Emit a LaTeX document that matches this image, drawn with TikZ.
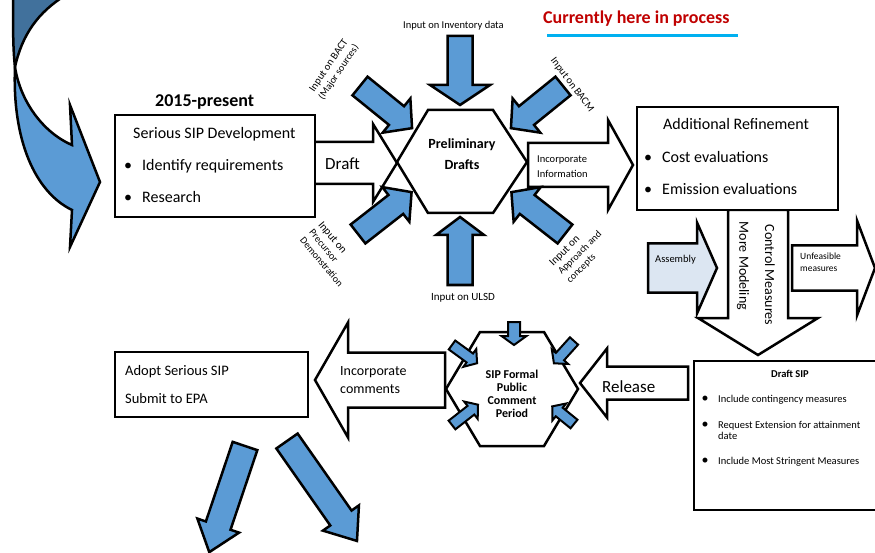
\documentclass[tikz,border=0pt]{standalone}
\usepackage{fontspec}
\setmainfont{Carlito}
\definecolor{ablue}{HTML}{5B9BD5}
\definecolor{dblue}{HTML}{41719C}
\definecolor{lblue}{HTML}{DCE6F2}
\definecolor{cred}{HTML}{C00000}
\definecolor{cyanline}{HTML}{00B0F0}
\tikzset{
 pics/barrow/.style args={#1/#2/#3/#4}{code={\path[pic actions] (0,-#2) -- ({#1-#4},-#2) -- ({#1-#4},-#3) -- (#1,0) -- ({#1-#4},#3) -- ({#1-#4},#2) -- (0,#2) -- cycle;}},
 bluearrow/.style={draw=black, fill=ablue, line width=2.5pt},
 whitearrow/.style={draw=black, fill=white, line width=2.5pt},
 box/.style={draw=black, line width=2.8pt, fill=white, inner sep=0pt},
 hexa/.style={draw=black, line width=2.5pt, fill=white},
 txt/.style={inner sep=0pt, anchor=base west},
 ctxt/.style={inner sep=0pt, anchor=base},
 rtxt/.style={inner sep=0pt, anchor=center},
}
\newcommand{\fs}[2]{\fontsize{#1}{#2}\selectfont}
\begin{document}
\begin{tikzpicture}[x=1pt,y=-1pt,line join=miter]
\useasboundingbox (0,0) rectangle (875,553);
\fill[white] (0,0) rectangle (875,553);
\clip (0,0) rectangle (875,553);

% curved arrow
\draw[line width=2.5pt, fill=dblue] (13,-5) .. controls (13,30) and (13,50) .. (15,67) .. controls (22,35) and (38,12) .. (66,-5) -- cycle;
\draw[line width=2.5pt, fill=ablue] (15,67) .. controls (12,140) and (35,192) .. (72,210) -- (70,247) -- (100,182) -- (70,105) -- (72,145) .. controls (42,132) and (20,100) .. (15,67) -- cycle;

% white block arrows
\pic[whitearrow] at (313,163) {barrow=84/21/39/24};
\pic[whitearrow] at (528,165) {barrow=105/22/45/25};
\pic[whitearrow, rotate=-90] at (758,210) {barrow=145/30/60/37};
\pic[whitearrow, fill=lblue] at (648,268) {barrow=69/24.5/45.5/20};
\pic[whitearrow] at (792,268) {barrow=83/22.5/47.5/18};
\pic[whitearrow, rotate=180] at (688,383) {barrow=108/16.5/34.5/27};
\pic[whitearrow, rotate=180] at (445,380) {barrow=130/27.5/57.5/33};

% boxes
\node[box, minimum width=200pt, minimum height=102pt] (dev) at (215,166) {};
\node[box, minimum width=201pt, minimum height=103pt] (refine) at (737.5,158.5) {};
\node[box, minimum width=193pt, minimum height=65pt] (adopt) at (211.5,384.5) {};
\node[box, minimum width=196pt, minimum height=149pt] (draftsip) at (792,435.5) {};

% hexagons
\draw[hexa] (428,110) -- (493,110) -- (527,162) -- (493,213) -- (428,213) -- (397,162) -- cycle;
\draw[hexa] (480,332) -- (544,332) -- (578,389) -- (544,446) -- (480,446) -- (446,389) -- cycle;

% blue input arrows
\pic[bluearrow, rotate=-90] at (460,36) {barrow=69/12.5/30/20};
\pic[bluearrow, rotate=90] at (460,285) {barrow=68/12.5/24/18};
\pic[bluearrow, rotate=-39] at (360,86) {barrow=67/12/22/20};
\pic[bluearrow, rotate=-141] at (563,86) {barrow=67/12/22/20};
\pic[bluearrow, rotate=38] at (358,234) {barrow=68/12/22/20};
\pic[bluearrow, rotate=142] at (565,234) {barrow=68/12/22/20};

\pic[bluearrow, line width=2pt, rotate=-90] at (514,322) {barrow=23/6/12.5/9};
\pic[bluearrow, line width=2pt, rotate=-36] at (452,345) {barrow=31/5.5/11/9};
\pic[bluearrow, line width=2pt, rotate=-132] at (574,341) {barrow=30/5.5/11/9};
\pic[bluearrow, line width=2pt, rotate=38] at (452,425) {barrow=33/5.5/11/9};
\pic[bluearrow, line width=2pt, rotate=141] at (574,424) {barrow=28/5.5/11/9};

\pic[bluearrow, rotate=-108.6] at (245,446) {barrow=112/13/22/28};
\pic[bluearrow, rotate=-55] at (287,441) {barrow=122/13/22/28};

% texts
\node[txt] (t2015) at (155,107) {\fs{18}{20}\bfseries 2015-present};
\node[txt] (t1) at (133,139) {\fs{16}{19}Serious SIP Development};
\node[ctxt] (b1) at (128,171) {\fs{16}{19}•};
\node[txt] (t2) at (142,171) {\fs{16}{19}Identify requirements};
\node[ctxt] (b2) at (128,203) {\fs{16}{19}•};
\node[txt] (t3) at (142,203) {\fs{16}{19}Research};

\node[txt] (tdraft) at (325,170) {\fs{17}{20}Draft};
\node[ctxt] (tpre1) at (462,149) {\fs{14}{16}\bfseries Preliminary};
\node[ctxt] (tpre2) at (462,170) {\fs{14}{16}\bfseries Drafts};

\node[txt] (tinc1) at (537,163) {\fs{10.5}{12}Incorporate};
\node[txt] (tinc2) at (537,178) {\fs{10.5}{12}Information};

\node[txt] (tcur) at (543,24) {\fs{18}{20}\bfseries\color{cred}Currently here in process};
\draw[cyanline, line width=3pt] (547,35.5) -- (738,35.5);

\node[txt] (tinv) at (403,29) {\fs{10.5}{12}Input on Inventory data};
\node[ctxt] (tulsd) at (463,301) {\fs{11}{12}Input on ULSD};
\node[rtxt, rotate=56, align=center] (tbact) at (334,69) {\fs{10.5}{13}Input on BACT\\(Major sources)};
\node[rtxt, rotate=-53] (tbacm) at (572,85) {\fs{10.5}{12}Input on BACM};
\node[rtxt, rotate=-50, align=left] (tprec) at (331,254) {\fs{11}{13}Input on\\Precursor\\Demonstration};
\node[rtxt, rotate=45, align=left] (tappr) at (580,253) {\fs{11}{13}Input on\\Approach and\\concepts};

\node[txt] (tadd) at (663,130) {\fs{16}{19}Additional Refinement};
\node[ctxt] (b3) at (648,163) {\fs{16}{19}•};
\node[txt] (tcost) at (662,163) {\fs{16}{19}Cost evaluations};
\node[ctxt] (b4) at (648,195) {\fs{16}{19}•};
\node[txt] (temis) at (662,195) {\fs{16}{19}Emission evaluations};

\node[rtxt, rotate=-90] (tmore) at (743,266) {\fs{14}{16}More Modeling};
\node[rtxt, rotate=-90] (tctrl) at (770,275) {\fs{14}{16}Control Measures};
\node[txt] (tass) at (655,263) {\fs{10.5}{12}Assembly};
\node[txt] (tunf1) at (800,260) {\fs{9.5}{11}Unfeasible};
\node[txt] (tunf2) at (800,272) {\fs{9.5}{11}measures};

\node[ctxt] (tdsip) at (790,377) {\fs{10.5}{12}\bfseries Draft SIP};
\node[ctxt] (b5) at (705,402) {\fs{14}{12}•};
\node[txt] (td1) at (718,402) {\fs{10.5}{12}Include contingency measures};
\node[ctxt] (b6) at (705,428) {\fs{14}{12}•};
\node[txt] (td2) at (718,428) {\fs{10.5}{12}Request Extension for attainment};
\node[txt] (td3) at (718,439) {\fs{10.5}{12}date};
\node[ctxt] (b7) at (705,464) {\fs{14}{12}•};
\node[txt] (td4) at (718,464) {\fs{10.5}{12}Include Most Stringent Measures};

\node[txt] (trel) at (602,392) {\fs{17}{20}Release};
\node[ctxt] (ts1) at (512,378) {\fs{12}{13}\bfseries SIP Formal};
\node[ctxt] (ts2) at (512,391) {\fs{12}{13}\bfseries Public};
\node[ctxt] (ts3) at (512,404) {\fs{12}{13}\bfseries Comment};
\node[ctxt] (ts4) at (512,417) {\fs{12}{13}\bfseries Period};

\node[txt] (tic1) at (340,375) {\fs{14}{16}Incorporate};
\node[txt] (tic2) at (340,393) {\fs{14}{16}comments};
\node[txt] (tad1) at (125,375) {\fs{14.5}{16}Adopt Serious SIP};
\node[txt] (tad2) at (125,403) {\fs{14.5}{16}Submit to EPA};
\end{tikzpicture}
\end{document}
